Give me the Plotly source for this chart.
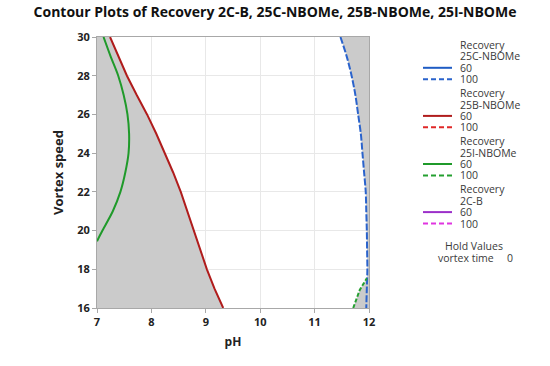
import plotly.graph_objects as go

# ---------------- data ----------------
PH_RANGE = [7, 12]
SPEED_RANGE = [16, 30]
x_ticks = [7, 8, 9, 10, 11, 12]
y_ticks = [16, 18, 20, 22, 24, 26, 28, 30]

# 25B-NBOMe, recovery = 60 (solid red)
b25_60_ph = [7.24, 7.39, 7.55, 7.73, 7.92, 8.09, 8.25, 8.40, 8.54, 8.66, 8.78, 8.90, 9.02, 9.16, 9.32]
b25_60_speed = [30, 29, 28, 27, 26, 25, 24, 23, 22, 21, 20, 19, 18, 17, 16]

# 25I-NBOMe, recovery = 60 (solid green)
i25_60_ph = [7.12, 7.25, 7.39, 7.49, 7.56, 7.59, 7.58, 7.52, 7.43, 7.29, 7.10, 7.0]
i25_60_speed = [30, 29, 28, 27, 26, 25, 24, 23, 22, 21, 20, 19.45]

# 25C-NBOMe, recovery = 100 (dashed blue)
c25_100_ph = [11.475, 11.59, 11.68, 11.75, 11.80, 11.85, 11.88, 11.91, 11.94, 11.95, 11.96, 11.965, 11.97, 11.96, 11.95]
c25_100_speed = [30, 29, 28, 27, 26, 25, 24, 23, 22, 21, 20, 19, 18, 17, 16]

# 25I-NBOMe, recovery = 100 (dashed green)
i25_100_ph = [11.71, 11.83, 11.96]
i25_100_speed = [16, 16.93, 17.54]

legend_groups = ["25C-NBOMe", "25B-NBOMe", "25I-NBOMe", "2C-B"]
legend_levels = ["60", "100"]
legend_colors = [("#1f5cc4", "#2a63cc"), ("#b01c1c", "#e02828"),
                 ("#1f9a2a", "#24a030"), ("#9b2fc9", "#e035e0")]

GREY = "#cbcbcb"

# ---------------- figure ----------------
W, H = 550, 366
ML, MR, MT, MB = 97, 181, 37, 58
PW, PH = W - ML - MR, H - MT - MB

fig = go.Figure()

# infeasible (grey) region left of the 25B-NBOMe 60 contour
fig.add_trace(go.Scatter(x=b25_60_ph, y=b25_60_speed, mode="lines", fill="tozerox",
                         fillcolor=GREY, line=dict(width=0), showlegend=False, hoverinfo="skip"))
# grey region right of the 25C-NBOMe 100 contour
fig.add_trace(go.Scatter(x=c25_100_ph + [PH_RANGE[1] + 1, PH_RANGE[1] + 1],
                         y=c25_100_speed + [SPEED_RANGE[0], SPEED_RANGE[1]],
                         mode="lines", fill="toself", fillcolor=GREY,
                         line=dict(width=0), showlegend=False, hoverinfo="skip"))
fig.add_trace(go.Scatter(x=i25_100_ph + [PH_RANGE[1] + 1],
                         y=i25_100_speed + [SPEED_RANGE[0]],
                         mode="lines", fill="toself", fillcolor=GREY,
                         line=dict(width=0), showlegend=False, hoverinfo="skip"))

# contour lines
fig.add_trace(go.Scatter(x=i25_60_ph, y=i25_60_speed, mode="lines",
                         line=dict(color=legend_colors[2][0], width=2, shape="spline", smoothing=0.8),
                         showlegend=False))
fig.add_trace(go.Scatter(x=b25_60_ph, y=b25_60_speed, mode="lines",
                         line=dict(color=legend_colors[1][0], width=2),
                         showlegend=False))
fig.add_trace(go.Scatter(x=c25_100_ph, y=c25_100_speed, mode="lines",
                         line=dict(color=legend_colors[0][1], width=2, dash="7px,2px",
                                   shape="spline", smoothing=0.8),
                         showlegend=False))
fig.add_trace(go.Scatter(x=i25_100_ph, y=i25_100_speed, mode="lines",
                         line=dict(color=legend_colors[2][1], width=2, dash="4px,2px"),
                         showlegend=False))

# ---------------- manual legend (paper coords are relative to plot area) ----------------
def px_x(p):
    return (p - ML) / PW
def px_y(p):
    return 1 - (p - MT) / PH

annotations = []
shapes = []
LEG_FONT = dict(family="Open Sans, Noto Sans, sans-serif", size=10.5, color="#3a3a3a")
y0 = 45.0
line_h = 11.4
group_h = 48.1
for gi, name in enumerate(legend_groups):
    base = y0 + gi * group_h
    rows = ["Recovery", name] + legend_levels
    for ri, txt in enumerate(rows):
        yy = base + ri * line_h
        annotations.append(dict(xref="paper", yref="paper", x=px_x(459), y=px_y(yy),
                                text=txt, showarrow=False, xanchor="left", yanchor="middle",
                                borderpad=0, font=LEG_FONT))
        if ri >= 2:
            col = legend_colors[gi][ri - 2]
            shapes.append(dict(type="line", xref="paper", yref="paper",
                               x0=px_x(423), x1=px_x(452), y0=px_y(yy), y1=px_y(yy),
                               line=dict(color=col, width=2,
                                         dash="solid" if ri == 2 else "5px,3px")))

annotations.append(dict(xref="paper", yref="paper", x=px_x(474), y=px_y(246),
                        text="Hold Values", showarrow=False, xanchor="center", yanchor="middle",
                        borderpad=0, font=LEG_FONT))
annotations.append(dict(xref="paper", yref="paper", x=px_x(437), y=px_y(257.5),
                        text="vortex time", showarrow=False, xanchor="left", yanchor="middle",
                        borderpad=0, font=LEG_FONT))
annotations.append(dict(xref="paper", yref="paper", x=px_x(506), y=px_y(257.5),
                        text="0", showarrow=False, xanchor="left", yanchor="middle",
                        borderpad=0, font=LEG_FONT))

axis_common = dict(showgrid=True, gridcolor="#e8e8e8", gridwidth=1, automargin=False,
                   showline=True, linecolor="#a8a8a8", linewidth=1, mirror=True,
                   ticks="outside", ticklen=4, tickcolor="#a8a8a8", zeroline=False,
                   tickfont=dict(family="Open Sans, sans-serif", size=11, color="#222222",
                                 weight="bold"))

fig.update_layout(
    width=W, height=H,
    margin=dict(l=ML, r=MR, t=MT, b=MB, autoexpand=False),
    paper_bgcolor="white", plot_bgcolor="white",
    title=dict(text="<b>Contour Plots of Recovery 2C-B, 25C-NBOMe, 25B-NBOMe, 25I-NBOMe</b>",
               x=0.5, xanchor="center", xref="container", y=1 - 12 / H, yanchor="middle",
               font=dict(family="Open Sans, sans-serif", size=14, color="#111111")),
    xaxis=dict(range=PH_RANGE, tickvals=x_ticks,
               title=dict(text="<b>pH</b>", standoff=9,
                          font=dict(family="Open Sans, sans-serif", size=12, color="#222222")),
               **axis_common),
    yaxis=dict(range=SPEED_RANGE, tickvals=y_ticks,
               title=dict(text="<b>Vortex speed</b>", standoff=10,
                          font=dict(family="Open Sans, sans-serif", size=13, color="#222222")),
               **axis_common),
    annotations=annotations, shapes=shapes,
    showlegend=False,
)

fig.write_html("out.html", config={"displayModeBar": False},
               post_script="document.body.style.margin='0';document.body.style.padding='0';")
